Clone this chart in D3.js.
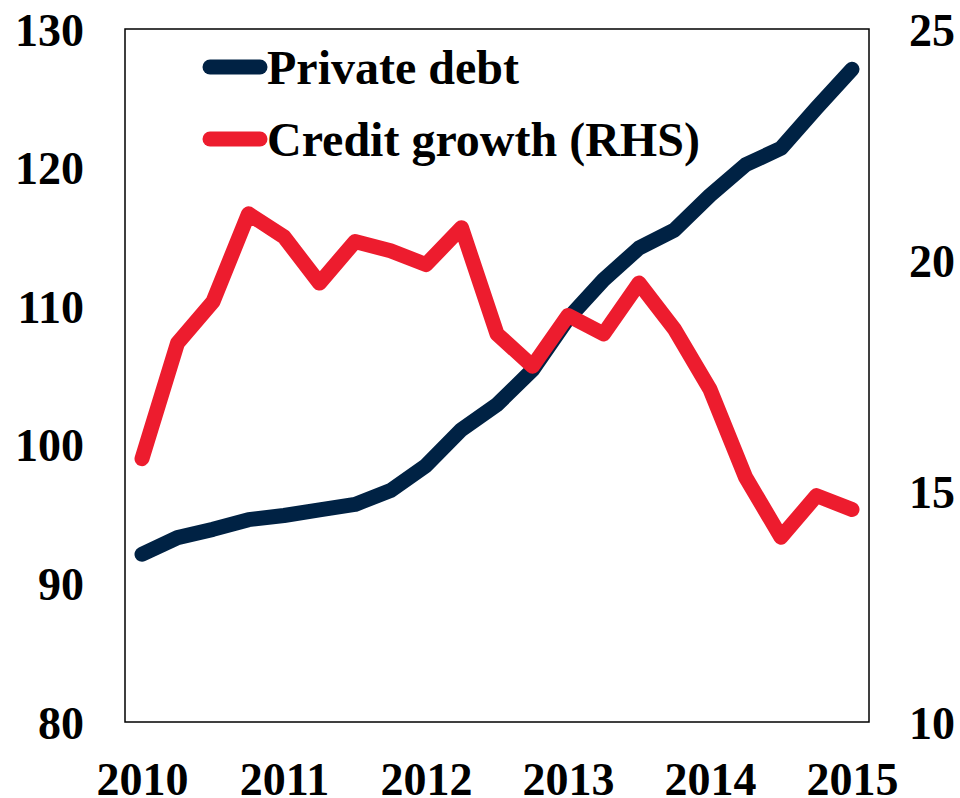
<!DOCTYPE html>
<html>
<head>
<meta charset="utf-8">
<script src="https://cdn.jsdelivr.net/npm/d3@7"></script>
<style>
  html, body { margin: 0; padding: 0; background: #fff; }
  svg { display: block; }
  text { font-family: "Liberation Serif", "Times New Roman", serif; font-weight: bold; fill: #000; }
</style>
</head>
<body>
<svg id="chart" width="960" height="798"></svg>
<script>
// Quarterly observations, 2010Q1 to 2015Q1
const quarters = d3.range(21);
const privateDebt = [92.1, 93.3, 93.9, 94.6, 94.9, 95.3, 95.7, 96.7, 98.5, 101.1, 102.9,
                     105.4, 109.1, 111.9, 114.2, 115.5, 118.0, 120.2, 121.4, 124.3, 127.1];
const creditGrowth = [15.7, 18.2, 19.1, 21.0, 20.5, 19.5, 20.4, 20.2, 19.9, 20.7, 18.4,
                      17.7, 18.8, 18.4, 19.5, 18.5, 17.2, 15.3, 14.0, 14.9, 14.6];
const yearLabels = ["2010", "2011", "2012", "2013", "2014", "2015"];
const leftTicks = [80, 90, 100, 110, 120, 130];
const rightTicks = [10, 15, 20, 25];
const seriesNames = ["Private debt", "Credit growth (RHS)"];
const seriesColors = ["#002244", "#ED1C2E"];

const svg = d3.select("#chart");
const frame = { left: 125, right: 869, top: 29, bottom: 722 };

const x = d3.scaleLinear().domain([0, 20]).range([142, 852]);
const yL = d3.scaleLinear().domain([80, 130]).range([frame.bottom, frame.top]);
const yR = d3.scaleLinear().domain([10, 25]).range([frame.bottom, frame.top]);

// plot frame
svg.append("rect")
  .attr("x", frame.left).attr("y", frame.top)
  .attr("width", frame.right - frame.left).attr("height", frame.bottom - frame.top)
  .attr("fill", "none").attr("stroke", "#000").attr("stroke-width", 1.5);

// left axis
const leftAxis = d3.axisLeft(yL).tickValues(leftTicks).tickSize(0).tickPadding(0);
const gL = svg.append("g").attr("transform", "translate(84,0)").call(leftAxis);
gL.select(".domain").remove();
gL.selectAll("text").attr("font-size", 46).attr("font-family", null).attr("dy", "0.35em");

// right axis
const rightAxis = d3.axisRight(yR).tickValues(rightTicks).tickSize(0).tickPadding(0);
const gR = svg.append("g").attr("transform", "translate(909,0)").call(rightAxis);
gR.select(".domain").remove();
gR.selectAll("text").attr("font-size", 46).attr("font-family", null).attr("dy", "0.35em");

// bottom axis: one label per year, every fourth quarter
const bottomAxis = d3.axisBottom(x).tickValues([0, 4, 8, 12, 16, 20])
  .tickFormat((d, i) => yearLabels[i]).tickSize(0).tickPadding(0);
const gB = svg.append("g").attr("transform", "translate(0,762)").call(bottomAxis);
gB.select(".domain").remove();
gB.selectAll("text").attr("font-size", 46).attr("font-family", null).attr("dy", "0.71em");

// series lines (credit growth drawn over private debt)
const lineL = d3.line().x((d, i) => x(quarters[i])).y(d => yL(d));
const lineR = d3.line().x((d, i) => x(quarters[i])).y(d => yR(d));

svg.append("path").datum(privateDebt)
  .attr("d", lineL).attr("fill", "none")
  .attr("stroke", seriesColors[0]).attr("stroke-width", 15)
  .attr("stroke-linejoin", "round").attr("stroke-linecap", "round");

svg.append("path").datum(creditGrowth)
  .attr("d", lineR).attr("fill", "none")
  .attr("stroke", seriesColors[1]).attr("stroke-width", 15)
  .attr("stroke-linejoin", "round").attr("stroke-linecap", "round");

// legend
const legend = svg.append("g");
const legendY = [67, 139];
seriesNames.forEach((name, i) => {
  legend.append("line")
    .attr("x1", 210).attr("x2", 260)
    .attr("y1", legendY[i]).attr("y2", legendY[i])
    .attr("stroke", seriesColors[i]).attr("stroke-width", 15)
    .attr("stroke-linecap", "round");
  legend.append("text")
    .attr("x", 267).attr("y", legendY[i]).attr("dy", "0.35em")
    .attr("font-size", 48)
    .text(name);
});
</script>
</body>
</html>
